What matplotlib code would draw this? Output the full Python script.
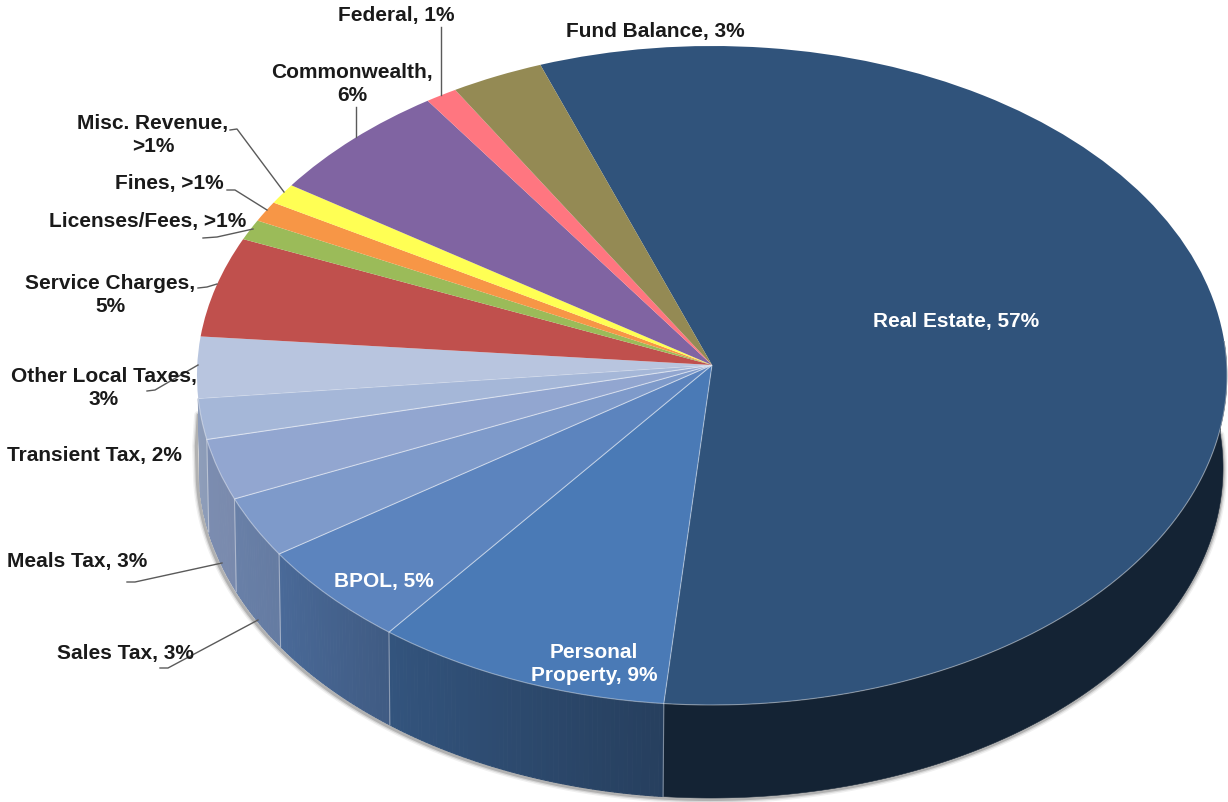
import numpy as np
import matplotlib
matplotlib.use('Agg')
import matplotlib.pyplot as plt

# slices, clockwise from the Real Estate / Fund Balance boundary
categories = ['Real Estate','Personal Property','BPOL','Sales Tax','Meals Tax','Transient Tax',
              'Other Local Taxes','Service Charges','Licenses/Fees','Fines','Misc. Revenue',
              'Commonwealth','Federal','Fund Balance']
shares = [56.9, 9.3, 5.1, 3.0, 3.0, 2.0, 3.0, 4.9, 1.0, 1.0, 1.0, 5.9, 1.0, 2.9]
colors = ['#30537b','#4a7ab6','#5c84be','#7e9aca','#92a6d0','#a5b7d8','#b8c5df',
          '#c0504d','#9bbb59','#f79646','#ffff54','#8064a2','#ff7680','#948a54']

W, H = 1228, 802
# top ellipse, bottom ellipse and apex, in pixels
cx, cy, rx, ry = 712, 375.5, 515, 329.5
bx, by, brx, bry = 711, 468, 512, 330
apex = (712, 365)
start = -19.47

def to_unit(px, py):
    return (px-cx)/rx, (cy-py)/ry

def wall_shade(t):
    # darker towards the front right
    return np.interp(t, [186, 219, 237, 248, 266], [0.52, 0.69, 0.80, 0.83, 0.86])

def wall_outline(steps):
    # wall patch over a run of rim angles, in degrees
    r = np.radians(steps)
    top = np.column_stack([np.sin(r), np.cos(r)])
    low = np.array([to_unit(bx+brx*np.sin(a), by-bry*np.cos(a)) for a in r[::-1]])
    return np.vstack([top, low])

fig = plt.figure(figsize=(W/100, H/100), dpi=100)
ax = fig.add_axes([0, 0, 1, 1])
plt.rcParams['font.family'] = ['Liberation Sans', 'DejaVu Sans']

# drop shadow under the wall, running up the left side
ts = np.radians(np.linspace(84, 268, 300))
sx = bx-1+(brx+1)*np.sin(ts)
sy = by+1.5-bry*np.cos(ts)
sx = np.append(sx, [sx[-1]-1, sx[-1]+1])
sy = np.append(sy, [sy[-1]-35, 415])
sx, sy = to_unit(sx, sy)
for lw, alpha in [(6, 0.08), (4, 0.14), (2.2, 0.25)]:
    ax.plot(sx, sy, color='#404040', lw=lw, alpha=alpha, zorder=0.5, solid_capstyle='round')

# side wall, thin overlapping strips so the shading runs smoothly
edges = start + np.concatenate([[0], np.cumsum(shares)])*3.6
for i, color in enumerate(colors[:6]):
    t1, t2 = max(edges[i], 84), min(edges[i+1], 266)
    rgb = np.array(matplotlib.colors.to_rgb(color))
    steps = np.arange(t1, t2+0.5, 0.5)
    steps[-1] = t2
    if i == 0:
        out = wall_outline(steps)
        ax.fill(out[:, 0], out[:, 1], color=tuple(rgb*0.42), lw=0.4, zorder=1)
    else:
        for a, b in zip(steps[:-1], steps[1:]):
            out = wall_outline(np.array([a, b]))
            ax.fill(out[:, 0], out[:, 1], color=tuple(rgb*wall_shade((a+b)/2)), lw=0.7, zorder=1)
    if 84 < t2 < 266:
        r = np.radians(t2)
        p = to_unit(bx+brx*np.sin(r), by-bry*np.cos(r))
        ax.plot([np.sin(r), p[0]], [np.cos(r), p[1]], color='white', alpha=0.4, lw=0.8, zorder=1.5)

# top face
wedges, _ = ax.pie(shares, colors=colors, startangle=90-start, counterclock=False,
                   wedgeprops={'zorder': 3, 'lw': 0})
ap = to_unit(*apex)
for i, w in enumerate(wedges):
    # the pie tip sits above the ellipse centre
    v = w.get_path().vertices
    v[np.hypot(v[:, 0], v[:, 1]) < 1e-6] = ap
    if 1 <= i <= 5:
        w.set_edgecolor((1, 1, 1, 0.4))
        w.set_linewidth(0.8)
# thin light line along the front rim of Real Estate
rim = np.radians(np.linspace(84, edges[1], 200))
ax.plot(np.sin(rim), np.cos(rim), color='white', alpha=0.4, lw=0.8, zorder=3.5)
ax.set_aspect('auto')
ax.set_xlim(to_unit(0, 0)[0], to_unit(W, 0)[0])
ax.set_ylim(to_unit(0, H)[1], to_unit(0, 0)[1])
ax.axis('off')

# labels and leader lines, in pixel coordinates
ov = fig.add_axes([0, 0, 1, 1], zorder=5)
ov.set_xlim(0, W)
ov.set_ylim(H, 0)
ov.axis('off')
ov.patch.set_alpha(0)

leaders = [
    [(441, 27), (441, 95)],
    [(356, 107), (356, 137)],
    [(230, 130), (237, 129), (284, 192)],
    [(227, 190), (235, 190), (267, 210)],
    [(203, 238), (217, 237), (253, 229)],
    [(198, 288), (207, 287), (217, 284)],
    [(147, 391), (155, 390), (198, 365)],
    [(127, 582), (135, 582), (222, 563)],
    [(160, 668), (168, 668), (258, 620)],
]
for pts in leaders:
    ov.plot(*zip(*pts), color='#5a5a5a', lw=1.0)

dark = '#1a1a1a'
texts = [
    ('Federal, 1%', 396, 15, dark),
    ('Fund Balance, 3%', 655, 32, dark),
    ('Commonwealth,\n6%', 352, 84, dark),
    ('Misc. Revenue,\n>1%', 153, 135, dark),
    ('Fines, >1%', 169, 184, dark),
    ('Licenses/Fees, >1%', 148, 222, dark),
    ('Service Charges,\n5%', 110, 295, dark),
    ('Other Local Taxes,\n3%', 104, 388, dark),
    ('Transient Tax, 2%', 94, 455, dark),
    ('Meals Tax, 3%', 77, 562, dark),
    ('Sales Tax, 3%', 125, 654, dark),
    ('Real Estate, 57%', 956, 321, 'white'),
    ('BPOL, 5%', 384, 581, 'white'),
    ('Personal\nProperty, 9%', 594, 664, 'white'),
]
for s, x, y, c in texts:
    ov.text(x, y, s, color=c, ha='center', va='center', fontsize=15, fontweight='bold',
            linespacing=1.22, family=['Liberation Sans', 'DejaVu Sans'])

fig.savefig('out.png', dpi=100, facecolor='white')
